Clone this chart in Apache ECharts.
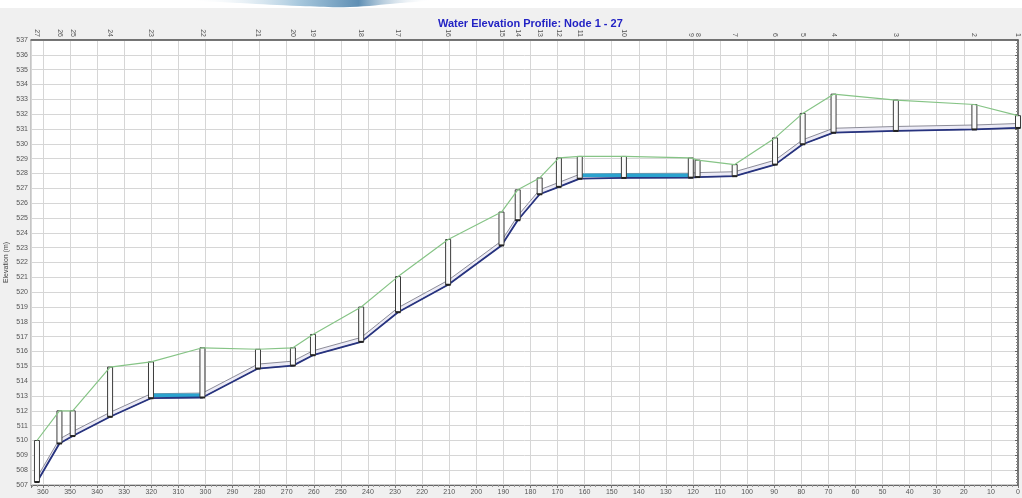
<!DOCTYPE html>
<html>
<head>
<meta charset="utf-8">
<title>Water Elevation Profile: Node 1 - 27</title>
<script src="https://cdn.jsdelivr.net/npm/echarts@6/dist/echarts.min.js"></script>
<style>
  html, body { margin: 0; padding: 0; background: #f0f0f0; }
  #chart { width: 1022px; height: 498px; }
</style>
</head>
<body>
<div id="chart"></div>
<script>
// Node numbers along the profile, upstream (left) to downstream (right)
const nodeIds = [27, 26, 25, 24, 23, 22, 21, 20, 19, 18, 17, 16, 15, 14, 13, 12, 11, 10, 9, 8, 7, 6, 5, 4, 3, 2, 1];
// Chainage of each node (m)
const stations = [362.2, 353.9, 349.0, 335.2, 320.1, 301.1, 280.6, 267.7, 260.3, 242.5, 228.9, 210.4, 190.7, 184.7, 176.6, 169.5, 161.8, 145.5, 120.8, 118.3, 104.6, 89.7, 79.5, 68.1, 45.1, 16.1, 0];
// Ground (rim) elevation at each node (m)
const groundElev = [510.0, 512.0, 512.0, 514.95, 515.3, 516.25, 516.15, 516.25, 517.15, 519.0, 521.05, 523.55, 525.4, 526.9, 527.7, 529.05, 529.15, 529.15, 529.05, 528.9, 528.6, 530.4, 532.05, 533.35, 532.95, 532.65, 531.9];
// Invert elevation at each node (m)
const invertElev = [507.2, 509.8, 510.3, 511.6, 512.85, 512.9, 514.85, 515.05, 515.75, 516.65, 518.65, 520.5, 523.15, 524.85, 526.6, 527.1, 527.65, 527.7, 527.72, 527.76, 527.82, 528.6, 529.97, 530.75, 530.87, 530.97, 531.07];
// Ponded water surface (m); null where the pipe is running near empty
const waterElev = [null, null, null, null, 513.05, 513.05, null, null, null, null, null, null, null, null, null, null, 527.88, 527.88, 527.88, null, null, null, null, null, null, null, null];
// Conduit diameter (m)
const pipeDiameter = 0.3;

// Elevation axis range and bottom chainage axis range
const elevMin = 507, elevMax = 537, elevStep = 1;
const chainMin = 0, chainMax = 364.4, chainStep = 10;

const pipeData = [];
for (let i = 0; i < stations.length - 1; i++) {
  pipeData.push([stations[i], invertElev[i], stations[i + 1], invertElev[i + 1]]);
}
const manholeData = stations.map((s, i) => [s, invertElev[i], groundElev[i]]);
const invertData = stations.map((s, i) => [s, invertElev[i]]);
const groundData = stations.map((s, i) => [s, groundElev[i]]);
const waterData = stations.map((s, i) => [s, waterElev[i]]);

function nodeLabel(v) {
  let best = 0, bd = Infinity;
  stations.forEach((s, i) => { const d = Math.abs(s - v); if (d < bd) { bd = d; best = i; } });
  return String(nodeIds[best]);
}

const chart = echarts.init(document.getElementById('chart'), null, { renderer: 'canvas' });
const fontFamily = '"Liberation Sans", Arial, sans-serif';

chart.setOption({
  animation: false,
  backgroundColor: '#f0f0f0',
  textStyle: { fontFamily },
  graphic: [
    { type: 'rect', left: 0, top: 0, z: -10, shape: { width: 1022, height: 8 }, style: { fill: '#ffffff' } },
    {
      type: 'polygon', z: -9,
      shape: { points: [[190, 0], [430, 0], [400, 3], [350, 7], [300, 6], [240, 3]], smooth: 0.4 },
      style: {
        fill: new echarts.graphic.LinearGradient(0, 0, 1, 0, [
          { offset: 0, color: 'rgba(255,255,255,0)' },
          { offset: 0.45, color: '#a9c9de' },
          { offset: 0.7, color: '#5f8fb4' },
          { offset: 1, color: 'rgba(255,255,255,0)' }
        ])
      }
    }
  ],
  title: {
    text: 'Water Elevation Profile: Node 1 - 27',
    left: 433,
    top: 13,
    textStyle: { color: '#2323c4', fontSize: 11, fontWeight: 'bold', fontFamily }
  },
  grid: {
    left: 31, right: 4, top: 40, bottom: 13,
    containLabel: false, outerBoundsMode: 'none',
    show: true, backgroundColor: '#ffffff', borderColor: '#9a9a9a', borderWidth: 1
  },
  xAxis: [
    {
      type: 'value', min: chainMin, max: chainMax, interval: chainStep, inverse: true, position: 'bottom',
      axisLine: { show: true, onZero: false, lineStyle: { color: '#666', width: 1 } },
      axisTick: { show: true, length: 3, lineStyle: { color: '#777' } },
      minorTick: { show: true, splitNumber: 5, length: 2, lineStyle: { color: '#999' } },
      axisLabel: {
        fontSize: 7, color: '#555', margin: 4,
        formatter: v => (Math.abs(v % chainStep) < 1e-6 ? String(v) : '')
      },
      splitLine: { show: true, lineStyle: { color: '#d6d6d6', width: 1 } }
    },
    {
      type: 'value', min: chainMin, max: chainMax, inverse: true, position: 'top',
      axisLine: { show: true, onZero: false, lineStyle: { color: '#555', width: 1.5 } },
      axisTick: { show: false },
      splitLine: { show: false },
      axisLabel: {
        customValues: stations, rotate: 90, fontSize: 7, color: '#555', margin: 3,
        formatter: v => nodeLabel(v)
      }
    }
  ],
  yAxis: {
    type: 'value', min: elevMin, max: elevMax, interval: elevStep,
    name: 'Elevation (m)', nameLocation: 'middle', nameGap: 21, nameMoveOverlap: false,
    nameTextStyle: { fontSize: 7, color: '#444' },
    axisLine: { show: true, lineStyle: { color: '#555', width: 1.5 } },
    axisTick: { show: true, length: 3, lineStyle: { color: '#666' } },
    minorTick: { show: true, splitNumber: 5, length: 2, lineStyle: { color: '#888' } },
    axisLabel: { fontSize: 7, color: '#555', margin: 3 },
    splitLine: { show: true, lineStyle: { color: '#d6d6d6', width: 1 } }
  },
  series: [
    {
      name: 'Conduits', type: 'custom', z: 2,
      encode: { x: [0, 2], y: [1, 3] },
      data: pipeData,
      renderItem: (params, api) => {
        const a = api.coord([api.value(0), api.value(1)]);
        const b = api.coord([api.value(2), api.value(3)]);
        const c = api.coord([api.value(2), api.value(3) + pipeDiameter]);
        const d = api.coord([api.value(0), api.value(1) + pipeDiameter]);
        return {
          type: 'polygon',
          shape: { points: [a, b, c, d] },
          style: { fill: '#ecebf6', stroke: '#80808c', lineWidth: 0.9 }
        };
      }
    },
    {
      name: 'Water Surface', type: 'line', z: 3,
      data: waterData, connectNulls: false, showSymbol: false, symbol: 'none',
      lineStyle: { color: '#2ba3cf', width: 3.5 }
    },
    {
      name: 'Invert', type: 'line', z: 4,
      data: invertData, showSymbol: false, symbol: 'none',
      lineStyle: { color: '#27337f', width: 1.8 }
    },
    {
      name: 'Manholes', type: 'custom', z: 5,
      encode: { x: 0, y: [1, 2] },
      data: manholeData,
      renderItem: (params, api) => {
        const top = api.coord([api.value(0), api.value(2)]);
        const bot = api.coord([api.value(0), api.value(1)]);
        return {
          type: 'group',
          children: [
            {
              type: 'rect',
              shape: { x: top[0] - 2.5, y: top[1], width: 5, height: bot[1] - top[1] },
              style: { fill: '#fbfbfb', stroke: '#3c3c3c', lineWidth: 1 }
            },
            {
              type: 'line',
              shape: { x1: top[0] - 2.5, y1: bot[1], x2: top[0] + 2.5, y2: bot[1] },
              style: { stroke: '#222', lineWidth: 2 }
            }
          ]
        };
      }
    },
    {
      name: 'Ground', type: 'line', z: 6,
      data: groundData, showSymbol: false, symbol: 'none',
      lineStyle: { color: '#86c486', width: 1.2 }
    }
  ]
});
</script>
</body>
</html>
